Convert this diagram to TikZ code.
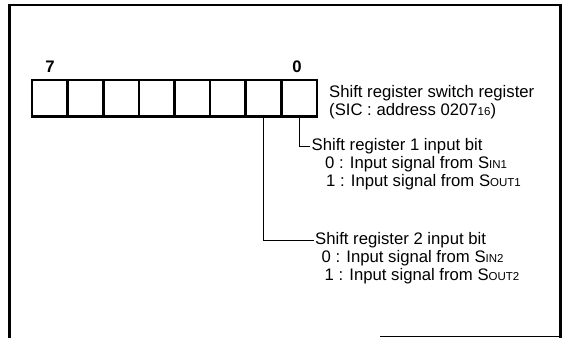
\documentclass[tikz,border=0pt]{standalone}
\usepackage{fontspec}
\setmainfont{Liberation Sans}
\usetikzlibrary{positioning}

\newcommand{\sml}[1]{{\fontsize{11.5}{11.5}\selectfont #1}}

\begin{document}
\begin{tikzpicture}[
    x=1pt, y=-1pt,
    every node/.style={font=\fontsize{16.7}{17.5}\selectfont},
    frame/.style={line width=2.4pt},
    cell/.style={rectangle, draw, line width=2.6pt, minimum width=35.6pt, minimum height=36.5pt, inner sep=0pt},
    bitno/.style={inner sep=0pt, font=\fontsize{16.7}{17.5}\selectfont\bfseries},
    note/.style={anchor=west, inner sep=1.5pt},
    line/.style={-, line width=0.9pt}
]
\useasboundingbox (0,0) rectangle (565,338);

% Rahmen
\draw[frame] (9.5,338) -- (9.5,4.7) -- (560.5,4.7) -- (560.5,338);
\draw[line width=1.4pt] (380,336.5) -- (560.5,336.5);

% Register (Bit 7 links, Bit 0 rechts)
\foreach \i in {0,...,7}
    \node[cell] (b\i) at ({32+(7-\i+0.5)*35.625},98.25) {};

% Bitnummern
\node[bitno] (n7) at (50,66.5) {7};
\node[bitno] (n0) at (297,66.5) {0};

% Registername
\node[note] (reg) at (327.5,93) {Shift register switch register};
\node[note] (adr) at (327.5,111) {(SIC : address 0207\sml{16})};

% Bit 0
\node[note] (s1) at (310,146) {Shift register 1 input bit};
\node[note] (s1a) at (323.5,164) {0 : Input signal from S\sml{IN1}};
\node[note] (s1b) at (324.5,182) {1 : Input signal from S\sml{OUT1}};

% Bit 1
\node[note] (s2) at (313.5,240) {Shift register 2 input bit};
\node[note] (s2a) at (320,258) {0 : Input signal from S\sml{IN2}};
\node[note] (s2b) at (323,276) {1 : Input signal from S\sml{OUT2}};

% Verbindungen
\draw[line] (b0.south) |- (s1.west);
\draw[line] (b1.south) |- (s2.west);

\end{tikzpicture}
\end{document}
